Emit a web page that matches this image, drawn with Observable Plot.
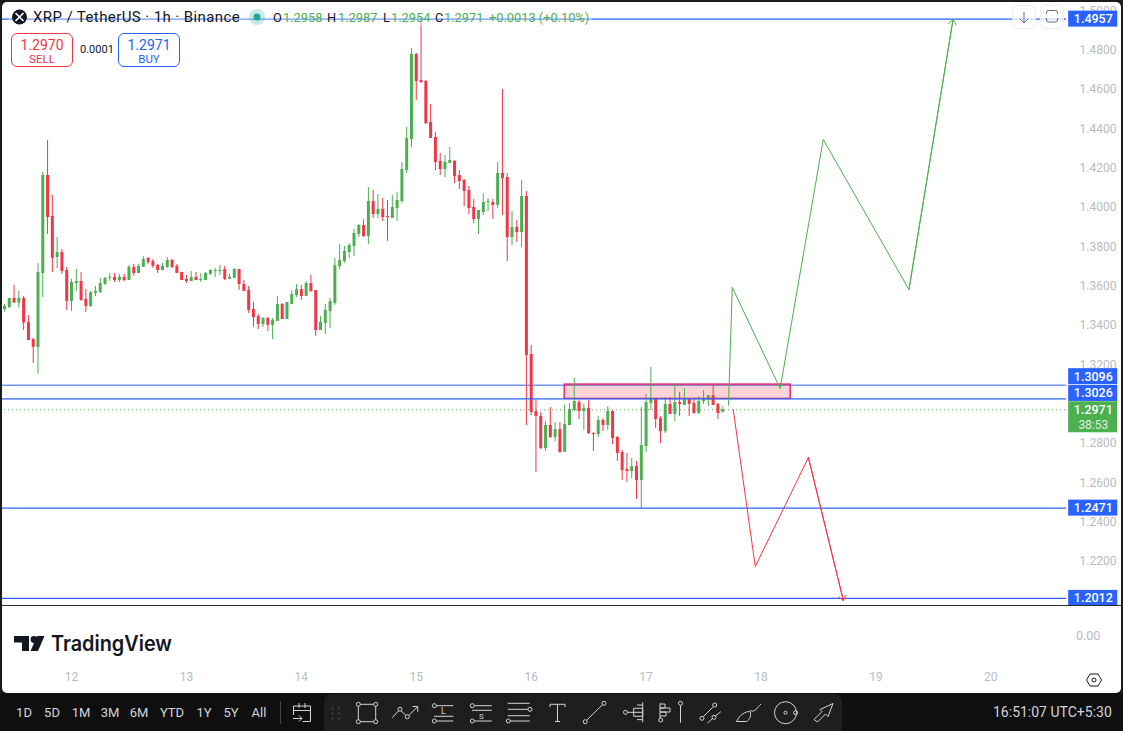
<!DOCTYPE html>
<html><head><meta charset="utf-8">
<script src="https://cdn.jsdelivr.net/npm/d3@7"></script>
<script src="https://cdn.jsdelivr.net/npm/@observablehq/plot@0.6"></script>
<style>
html,body{margin:0;padding:0;background:#1b1b1b;width:1123px;height:731px;overflow:hidden;font-family:Roboto,"Liberation Sans",sans-serif}
#wrap{position:relative;width:1123px;height:731px;background:#1b1b1b}
#chart svg{display:block;background:#fff;clip-path:inset(2px 2px 0 2px round 5px)}
.a{position:absolute;white-space:nowrap;line-height:1}
.box{position:absolute;top:33px;width:60px;height:32px;border:1px solid;border-radius:6px;background:#fff;text-align:center}
.box b{display:block;font-weight:400;font-size:14px;margin-top:3px;line-height:16px}
.box i{display:block;font-style:normal;font-size:11.5px;line-height:13px}
.tf{position:absolute;top:705px;font-size:13px;line-height:15px;color:#d1d4dc;transform:translateX(-50%)}
</style></head><body>
<div id="wrap"><div id="chart"></div></div>
<script>
// Hourly candles, prices
const opens = [
1.3481,1.3491,1.3537,1.3513,1.3537,1.3415,1.3328,1.3288,1.3664,1.4162,1.3954,1.3745,1.3771,1.3679,1.3522,1.3613,1.3623,1.3532,1.3496,1.3562,
1.3567,1.3608,1.3639,1.3644,1.3628,1.3644,1.3628,1.3695,1.3664,1.3695,1.3740,1.3725,1.3705,1.3679,1.3695,1.3730,1.3700,1.3669,1.3634,1.3623,
1.3644,1.3628,1.3628,1.3659,1.3674,1.3674,1.3684,1.3634,1.3639,1.3684,1.3608,1.3578,1.3481,1.3445,1.3405,1.3435,1.3400,1.3420,1.3506,1.3430,
1.3506,1.3552,1.3582,1.3547,1.3613,1.3577,1.3374,1.3410,1.3471,1.3511,1.3699,1.3725,1.3771,1.3801,1.3862,1.3908,1.3852,1.4030,1.3964,1.3989,
1.3954,1.3943,1.3994,1.4030,1.4187,1.4345,1.4777,1.4645,1.4640,1.4431,1.4355,1.4233,1.4192,1.4223,1.4233,1.4162,1.4137,1.4086,1.3999,1.3938,
1.3974,1.4025,1.4025,1.4010,1.4172,1.4152,1.3847,1.3898,1.3872,1.4055,1.3252,1.2962,1.2937,1.2774,1.2891,1.2830,1.2870,1.2754,1.2891,1.2967,
1.3008,1.2962,1.2977,1.2850,1.2845,1.2916,1.2891,1.2962,1.2830,1.2754,1.2667,1.2657,1.2682,1.2611,1.2784,1.3003,1.3028,1.2926,1.2860,1.2998,
1.2947,1.3008,1.2993,1.3028,1.3003,1.2952,1.3013,1.3018,1.3043,1.2998,1.2958];
const highs = [
1.3506,1.3537,1.3603,1.3572,1.3547,1.3450,1.3334,1.3715,1.4178,1.4340,1.4061,1.3847,1.3786,1.3695,1.3634,1.3684,1.3669,1.3583,1.3572,1.3598,
1.3639,1.3644,1.3664,1.3664,1.3659,1.3659,1.3705,1.3710,1.3710,1.3750,1.3745,1.3735,1.3710,1.3715,1.3745,1.3735,1.3710,1.3669,1.3654,1.3674,
1.3669,1.3664,1.3669,1.3684,1.3689,1.3705,1.3700,1.3659,1.3689,1.3684,1.3628,1.3598,1.3517,1.3456,1.3440,1.3440,1.3435,1.3547,1.3511,1.3516,
1.3577,1.3608,1.3603,1.3623,1.3654,1.3577,1.3445,1.3506,1.3537,1.3740,1.3811,1.3801,1.3816,1.3888,1.3913,1.3938,1.4101,1.4086,1.4065,1.4045,
1.4035,1.4060,1.4076,1.4228,1.4406,1.4808,1.4782,1.4960,1.4645,1.4523,1.4381,1.4274,1.4264,1.4304,1.4238,1.4187,1.4142,1.4106,1.4040,1.3984,
1.4070,1.4045,1.4040,1.4228,1.4599,1.4172,1.3979,1.3933,1.4137,1.4081,1.3298,1.3023,1.2957,1.2911,1.2982,1.2906,1.2906,1.2993,1.3003,1.3130,
1.3018,1.2998,1.3018,1.2855,1.2937,1.2926,1.2987,1.2967,1.2835,1.2764,1.2749,1.2723,1.2708,1.2982,1.3048,1.3186,1.3028,1.2937,1.3033,1.3033,
1.3104,1.3059,1.3079,1.3028,1.3023,1.3038,1.3069,1.3043,1.3099,1.3003,1.2987];
const lows = [
1.3467,1.3486,1.3513,1.3488,1.3374,1.3323,1.3206,1.3151,1.3542,1.3862,1.3669,1.3689,1.3659,1.3476,1.3471,1.3572,1.3522,1.3466,1.3491,1.3547,
1.3562,1.3603,1.3623,1.3618,1.3618,1.3623,1.3628,1.3649,1.3664,1.3695,1.3710,1.3689,1.3664,1.3679,1.3689,1.3689,1.3664,1.3628,1.3613,1.3623,
1.3628,1.3618,1.3628,1.3654,1.3644,1.3654,1.3628,1.3634,1.3639,1.3578,1.3572,1.3461,1.3390,1.3379,1.3390,1.3369,1.3328,1.3420,1.3430,1.3430,
1.3506,1.3542,1.3527,1.3547,1.3567,1.3344,1.3374,1.3354,1.3384,1.3501,1.3684,1.3715,1.3740,1.3750,1.3847,1.3847,1.3811,1.3943,1.3943,1.3928,
1.3827,1.3943,1.3928,1.4020,1.4172,1.4304,1.4543,1.4630,1.4421,1.4350,1.4187,1.4162,1.4152,1.4223,1.4121,1.4091,1.4004,1.3964,1.3918,1.3862,
1.3959,1.3979,1.3938,1.3994,1.3959,1.3725,1.3806,1.3821,1.3796,1.2891,1.2942,1.2652,1.2769,1.2759,1.2825,1.2809,1.2749,1.2754,1.2891,1.2962,
1.2921,1.2866,1.2845,1.2759,1.2830,1.2860,1.2866,1.2794,1.2708,1.2611,1.2601,1.2621,1.2515,1.2467,1.2754,1.2967,1.2876,1.2799,1.2850,1.2947,
1.2911,1.2937,1.2993,1.2937,1.2947,1.2947,1.2998,1.2987,1.2993,1.2921,1.2954];
const closes = [
1.3496,1.3537,1.3513,1.3537,1.3412,1.3323,1.3288,1.3669,1.4162,1.3949,1.3740,1.3771,1.3674,1.3522,1.3618,1.3623,1.3527,1.3496,1.3567,1.3572,
1.3613,1.3639,1.3644,1.3628,1.3644,1.3628,1.3695,1.3664,1.3700,1.3735,1.3720,1.3700,1.3679,1.3700,1.3730,1.3695,1.3664,1.3628,1.3623,1.3644,
1.3628,1.3634,1.3664,1.3679,1.3679,1.3679,1.3634,1.3644,1.3684,1.3608,1.3572,1.3476,1.3440,1.3405,1.3435,1.3400,1.3425,1.3506,1.3430,1.3516,
1.3557,1.3582,1.3547,1.3613,1.3572,1.3374,1.3415,1.3476,1.3521,1.3704,1.3730,1.3776,1.3806,1.3867,1.3908,1.3852,1.4030,1.3964,1.3989,1.3949,
1.3949,1.3999,1.4035,1.4192,1.4350,1.4777,1.4640,1.4635,1.4426,1.4350,1.4228,1.4192,1.4228,1.4238,1.4157,1.4131,1.4081,1.3994,1.3938,1.3984,
1.4025,1.4030,1.4010,1.4172,1.4147,1.3847,1.3898,1.3872,1.4055,1.3247,1.2957,1.2937,1.2774,1.2891,1.2830,1.2870,1.2754,1.2896,1.2972,1.3013,
1.2962,1.2977,1.2850,1.2845,1.2916,1.2891,1.2962,1.2825,1.2749,1.2662,1.2657,1.2682,1.2611,1.2789,1.3008,1.3028,1.2921,1.2860,1.2998,1.2947,
1.3008,1.2998,1.3028,1.2998,1.2952,1.3013,1.3023,1.3043,1.2993,1.2952,1.2971];

const priceTicks = [1.22,1.24,1.26,1.28,1.32,1.34,1.36,1.38,1.40,1.42,1.44,1.46,1.48,1.50];
const dayTicks = [0,24,48,72,96,120,144,168,192];
const dayLabels = ["12","13","14","15","16","17","18","19","20"];
const firstBarHour = -14;                       // first candle relative to the "12" tick
const underLevels = [1.3096];
const overLevels = [1.4957,1.3026,1.2471,1.2012];
const lastPrice = 1.2971;
const zone = {h1:103,h2:150.2,p1:1.3026,p2:1.3099};
const upHours = [137.2,138.0,148.0,157.0,174.9,184.1];
const upPrices = [1.2993,1.3593,1.3079,1.4345,1.3582,1.4955];
const downHours = [138.2,142.8,153.9,161.2];
const downPrices = [1.2972,1.2174,1.2728,1.2001];
const tags = [
 {label:"1.4957",price:1.4957,dy:0},
 {label:"1.3096",price:1.3096,dy:-8.5},
 {label:"1.3026",price:1.3026,dy:-5.5},
 {label:"1.2471",price:1.2471,dy:0},
 {label:"1.2012",price:1.2012,dy:0}];

const BLUE="#2962ff",GREEN="#4caf50",RED="#f23645",GREY="#b8bbc2";
const candles = opens.map((o,i)=>({h:i+firstBarHour,o,hi:highs[i],lo:lows[i],c:closes[i]}));
const col = d=>d.c>=d.o?GREEN:RED;
const tagX1=208.25,tagX2=218.5,tagXc=213.4;
const seg = (xs,ys)=>xs.map((x,i)=>({x,y:ys[i]}));
const upPts=seg(upHours,upPrices),downPts=seg(downHours,downPrices);
const lastSeg=p=>[{x1:p[p.length-2].x,y1:p[p.length-2].y,x2:p[p.length-1].x,y2:p[p.length-1].y}];

const tagMarks = tags.flatMap(t=>[
  Plot.rect([t],{x1:()=>tagX1,x2:()=>tagX2,y1:"price",y2:"price",insetTop:-8,insetBottom:-8,dy:t.dy,fill:BLUE}),
  Plot.text([t],{x:()=>tagXc,y:"price",text:"label",dy:t.dy,fill:"#fff",fontSize:12.5,fontWeight:500})
]);

const chart = Plot.plot({
  width:1123,height:693,
  marginLeft:0,marginRight:57,marginTop:0,marginBottom:29,
  x:{domain:[-14.83,207.8],range:[0,1066]},
  y:{domain:[1.50517,1.16759],range:[0,664]},
  style:{fontFamily:"Roboto,'Liberation Sans',sans-serif",fontSize:"12px",background:"#fff"},
  marks:[
    Plot.axisY(priceTicks,{anchor:"right",tickSize:0,tickPadding:13,tickFormat:d3.format(".4f"),label:null,color:GREY,fill:GREY}),
    Plot.axisX(dayTicks,{anchor:"bottom",tickSize:0,tickPadding:8,tickFormat:d=>dayLabels[dayTicks.indexOf(d)],label:null,fill:GREY}),
    Plot.ruleY(underLevels,{stroke:BLUE,strokeWidth:1}),
    Plot.rect([zone],{x1:"h1",x2:"h2",y1:"p1",y2:"p2",fill:RED,fillOpacity:0.22,stroke:"#e91e63",strokeWidth:1.4}),
    Plot.ruleY([lastPrice],{stroke:"#5c9a5e",strokeWidth:1,strokeDasharray:"1 3"}),
    Plot.ruleX(candles,{x:"h",y1:"lo",y2:"hi",stroke:col,strokeWidth:1}),
    Plot.ruleX(candles,{x:"h",y1:"o",y2:"c",stroke:col,strokeWidth:3}),
    Plot.ruleY(overLevels,{stroke:BLUE,strokeWidth:1.2}),
    Plot.line(upPts,{x:"x",y:"y",stroke:GREEN,strokeWidth:1}),
    Plot.arrow(lastSeg(upPts),{x1:"x1",y1:"y1",x2:"x2",y2:"y2",bend:0,stroke:GREEN,strokeWidth:1,headLength:9,headAngle:80}),
    Plot.line(downPts,{x:"x",y:"y",stroke:RED,strokeWidth:1}),
    Plot.arrow(lastSeg(downPts),{x1:"x1",y1:"y1",x2:"x2",y2:"y2",bend:0,stroke:RED,strokeWidth:1,headLength:9,headAngle:80}),
    ...tagMarks,
    Plot.rect([{p:lastPrice}],{x1:()=>tagX1,x2:()=>tagX2,y1:"p",y2:"p",insetTop:-8,insetBottom:-23,fill:GREEN}),
    Plot.text([lastPrice],{x:()=>tagXc,y:d=>d,text:d=>d.toFixed(4),fill:"#fff",fontSize:12.5,fontWeight:500}),
    Plot.text(["38:53"],{x:()=>tagXc,y:()=>lastPrice,dy:15,text:d=>d,fill:"#dff1e0",fontSize:12})
  ]
});
document.getElementById("chart").appendChild(chart);

const wrap=document.getElementById("wrap");
const add=h=>wrap.insertAdjacentHTML("beforeend",h);
// header strip
add(`<div class="a" style="left:8px;top:9px;width:584px;height:17px;background:rgba(255,255,255,.35)"></div>`);
add(`<svg class="a" style="left:0;top:0" width="300" height="36"><circle cx="19.5" cy="17" r="7.5" fill="#131722"/><path d="M15.500 13l8 8M23.500 13l-8 8" stroke="#fff" stroke-width="1.6"/></svg>`);
add(`<div class="a" style="left:33px;top:9px;font-size:15px;line-height:17px;color:#131722;letter-spacing:.4px">XRP / TetherUS · 1h · Binance</div>`);
add(`<svg class="a" style="left:248px;top:8px" width="18" height="18"><circle cx="9" cy="9" r="8" fill="#26a69a" fill-opacity=".25"/><circle cx="9" cy="9" r="3.5" fill="#26a69a"/></svg>`);
[["O",273,"#131722"],["1.2958",283,GREEN],["H",327,"#131722"],["1.2987",338,GREEN],["L",383,"#131722"],["1.2954",391,GREEN],["C",435,"#131722"],["1.2971",444,GREEN],["+0.0013 (+0.10%)",489,GREEN]]
 .forEach(([t,x,c])=>add(`<div class="a" style="left:${x}px;top:10px;font-size:12.8px;line-height:15px;color:${c}">${t}</div>`));
// sell / buy
add(`<div class="box" style="left:11px;border-color:${RED};color:${RED}"><b>1.2970</b><i>SELL</i></div>`);
add(`<div class="a" style="left:80px;top:44px;font-size:11px;line-height:12px;color:#131722">0.0001</div>`);
add(`<div class="box" style="left:118px;border-color:${BLUE};color:${BLUE}"><b>1.2971</b><i>BUY</i></div>`);
// top-right buttons
add(`<svg class="a" style="left:1010px;top:3px" width="56" height="28" fill="none"><rect x="2.5" y="2.5" width="23" height="23" rx="5" fill="#fff" fill-opacity=".75" stroke="#eeeef0"/><rect x="30.5" y="2.5" width="23" height="23" rx="5" fill="#fff" fill-opacity=".75" stroke="#eeeef0"/><path d="M14 9v11M10 16l4 4 4-4" stroke="#6a6d78"/><path d="M36.500 11v-1.500a2 2 0 0 1 2-2h7a2 2 0 0 1 2 2V11M36.500 15v2a2 2 0 0 0 2 2h7a2 2 0 0 0 2-2v-2" stroke="#6a6d78"/></svg>`);
// pane divider, volume pane label, logo, settings
add(`<div class="a" style="left:2px;top:604.500px;width:1119px;height:1.500px;background:#2a2e39"></div>`);
add(`<div class="a" style="left:1076px;top:629px;font-size:12.5px;line-height:13px;color:${GREY}">0.00</div>`);
add(`<svg class="a" style="left:10px;top:628px" width="175" height="32"><path d="M4 8h15v15h-7v-8.500H4z" fill="#131722"/><circle cx="24" cy="11.500" r="3.400" fill="#131722"/><path d="M27 8h7.500l-6.500 15h-7.500z" fill="#131722"/><text x="41" y="23" font-family="Inter,Roboto,sans-serif" font-size="21" font-weight="600" fill="#131722" textLength="121" lengthAdjust="spacingAndGlyphs">TradingView</text></svg>`);
add(`<svg class="a" style="left:1084px;top:670px" width="20" height="20" fill="none" stroke="#131722"><path d="M2.500 10l3.500-6h8l3.500 6-3.500 6H6z"/><circle cx="10" cy="10" r="2"/></svg>`);
// bottom toolbar
add(`<div class="a" style="left:0;top:693px;width:1123px;height:38px;background:#0f0f0f"></div>`);
add(`<div class="a" style="left:324px;top:694px;width:518px;height:37px;background:#1e1e1e;border-radius:8px 8px 0 0"></div>`);
[["1D",24],["5D",52],["1M",81],["3M",110],["6M",139],["YTD",172],["1Y",204],["5Y",231],["All",259]].forEach(([t,x])=>add(`<div class="tf" style="left:${x}px">${t}</div>`));
add(`<div class="a" style="left:993px;top:704px;font-size:14px;line-height:16px;color:#d1d4dc">16:51:07 UTC+5:30</div>`);
const dots=[[332.5,15.5],[339,15.5],[332.5,20.5],[339,20.5],[332.5,25.5],[339,25.5]].map(([x,y])=>`<circle cx="${x}" cy="${y}" r="1" fill="#4a4a4a" stroke="none"/>`).join("");
const c=(x,y,r=2)=>`<circle cx="${x}" cy="${y}" r="${r}"/>`;
add(`<svg class="a" style="left:0;top:693px" width="1123" height="38" fill="none" stroke="#d1d4dc" stroke-width="1">
<path d="M280.500 8v23" stroke="#444"/>
<path d="M293.500 22v-9h17v15.500h-8M293.500 17.500h17M299 10v5M305 10v5M293 25.500h9M299 22.500l3 3-3 3"/>
${dots}
<path d="M360.300 11.300h13.400M360.300 28.700h13.400M358.300 13.300v13.400M375.700 13.300v13.400"/>${c(358.3,11.3)}${c(375.7,11.3)}${c(358.3,28.7)}${c(375.7,28.7)}
<path d="M392.300 24.700l6.300-7M401.300 18l4.500 4.200M409 22.300l8.500-8.500M412.500 13.500h5.200v5.200"/>${c(400,16.3)}${c(407.3,23.7)}
<path d="M436.300 12.700h17M434 23.300h19.500M436.300 28h17"/>${c(434.3,12.700)}${c(434.3,28)}<text x="441" y="21" fill="#d1d4dc" stroke="none" font-size="8.500">L</text>
<path d="M474.300 12.700h17.500M472 17.300h19.800M474.300 28h17.500"/>${c(472.3,12.700)}${c(472.3,28)}<text x="479" y="26" fill="#d1d4dc" stroke="none" font-size="8">S</text>
<path d="M507.700 10.300h22M507.700 16.300h20.300M507.700 22.700h22M510.300 28h19.500"/>${c(530,16.3)}${c(508.3,28)}
<path d="M550 14v-2.700h15V14M557.500 11.300v17M555 28.500h5"/>
<path d="M586.500 27.300l16-15.500"/>${c(585.2,28.7)}${c(603.9,10.3)}
<path d="M642.700 9.300v20M627.500 19.300h15M633.700 15.300h9v8h-9zM637 12h5.700M637 26.600h5.700"/>${c(625.5,19.3)}
<path d="M660 10.300v15M660 11h5v4h-5M660 15h10v4h-10M660 19h6v4h-6"/>${c(660.7,27)}
<path d="M680.500 12.300v17.500"/>${c(680.5,10.3)}
<path d="M703.500 23.500l10-10M707.500 30.300l5-5M715.500 23l5.300-4.300"/>${c(702,25.3)}${c(714.7,12)}${c(714,24.3)}
<path d="M736.500 28.500h10c3.500-2 5-6 3.500-10-5 0-10 3-13.500 10zM750 17c2 2 5 1 6.500-1s2.500-3 4.500-5"/>
<circle cx="785.500" cy="19.700" r="11"/>${c(785.5,19.7,1.5)}${c(795.6,19.7)}
<path d="M814 26.500l8-8-2-2 13-6-5 13-2.500-2.500-8 8z"/>
</svg>`);
</script>
</body></html>
